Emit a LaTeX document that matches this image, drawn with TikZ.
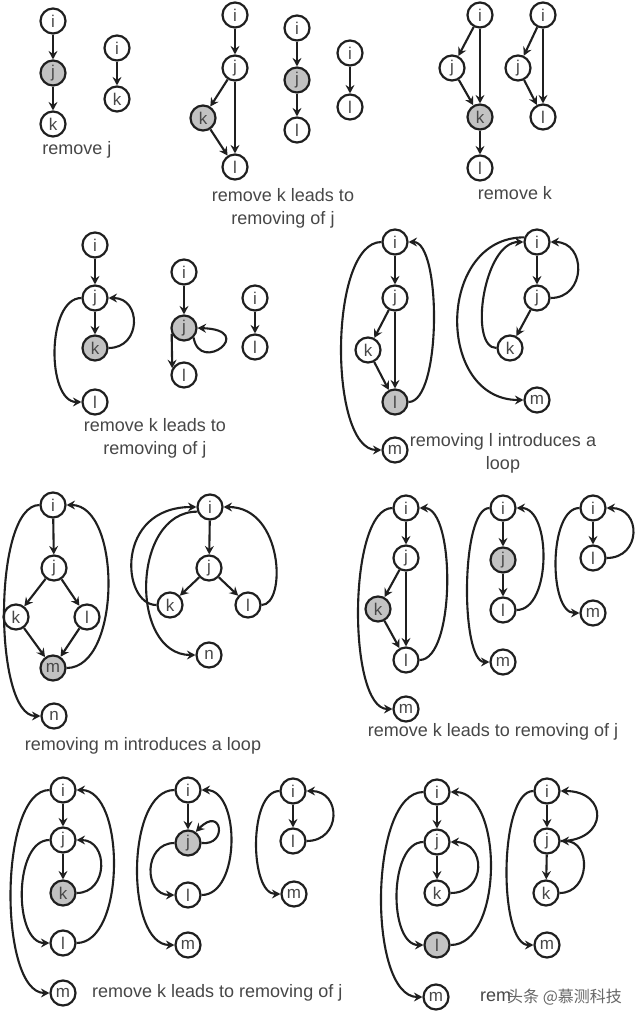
\documentclass[tikz,border=0pt]{standalone}
\usepackage{fontspec}
\setmainfont{Liberation Sans}
\newfontfamily\cjk{Noto Sans CJK SC}
\usetikzlibrary{arrows.meta}
\begin{document}
\begin{tikzpicture}[x=1pt,y=-1pt,
  nd/.style={circle,draw=black!88,line width=2.2pt,minimum size=25pt,inner sep=0pt,font=\fontsize{17}{17}\selectfont,text=black!72,fill=white},
  gn/.style={nd,fill=black!24},
  ar/.style={draw=black!88,line width=2.1pt,-{Stealth[length=8.5pt,width=9pt,inset=3pt]}},
  lb/.style={font=\fontsize{18}{23}\selectfont,text=black!72,align=center,inner sep=0pt},
  wm/.style={font=\cjk\fontsize{16}{16}\selectfont,text=black!60,inner sep=0pt}]
\fill[white] (0,0) rectangle (640,1022);
\path[use as bounding box] (0,0) rectangle (640,1022);

% ---------- group 1
\node[nd] (a1) at (53,21) {i};
\node[gn] (a2) at (53,73) {j};
\node[nd] (a3) at (53,124) {k};
\node[nd] (b1) at (117,48) {i};
\node[nd] (b2) at (117,99) {k};
\draw[ar] (a1)--(a2); \draw[ar] (a2)--(a3); \draw[ar] (b1)--(b2);
\node[lb] (la) at (77,150) {remove j};

% ---------- group 2
\node[nd] (c1) at (235,15) {i};
\node[nd] (c2) at (235,68) {j};
\node[gn] (c3) at (203,118) {k};
\node[nd] (c4) at (235,167) {l};
\node[nd] (d1) at (297,28) {i};
\node[gn] (d2) at (297,80) {j};
\node[nd] (d3) at (297,130) {l};
\node[nd] (e1) at (350,53) {i};
\node[nd] (e2) at (350,107) {l};
\draw[ar] (c1)--(c2); \draw[ar] (c2)--(c3); \draw[ar] (c2)--(c4); \draw[ar] (c3)--(c4);
\draw[ar] (d1)--(d2); \draw[ar] (d2)--(d3); \draw[ar] (e1)--(e2);
\node[lb] (lc) at (283,208) {remove k leads to\\removing of j};

% ---------- group 3
\node[nd] (f1) at (480,15) {i};
\node[nd] (f2) at (452,68) {j};
\node[gn] (f3) at (480,117) {k};
\node[nd] (f4) at (480,168) {l};
\node[nd] (g1) at (543,15) {i};
\node[nd] (g2) at (518,68) {j};
\node[nd] (g3) at (543,117) {l};
\draw[ar] (f1)--(f2); \draw[ar] (f1)--(f3); \draw[ar] (f2)--(f3); \draw[ar] (f3)--(f4);
\draw[ar] (g1)--(g2); \draw[ar] (g1)--(g3); \draw[ar] (g2)--(g3);
\node[lb] (lf) at (515,193) {remove k};

% ---------- group 4
\node[nd] (h1) at (95,245) {i};
\node[nd] (h2) at (95,298) {j};
\node[gn] (h3) at (95,348) {k};
\node[nd] (h4) at (95,402) {l};
\node[nd] (p1) at (184,272) {i};
\node[gn] (p2) at (184,328) {j};
\node[nd] (p3) at (184,375) {l};
\node[nd] (q1) at (255,298) {i};
\node[nd] (q2) at (255,347) {l};
\draw[ar] (h1)--(h2); \draw[ar] (h2)--(h3);
\draw[ar] (h3.east) .. controls +(33,0) and +(33,0) .. (h2.east);
\draw[ar] (h2.west) .. controls +(-35,0) and +(-35,0) .. (h4.west);
\draw[ar] (p1)--(p2);
\draw[ar] (p2.-45) .. controls (200,375) and (258,330) .. (p2.east);
\draw[ar] (p2.205) -- (p3.150);
\draw[ar] (q1)--(q2);
\node[lb] (lh) at (155,438) {remove k leads to\\removing of j};

% ---------- group 5
\node[nd] (r1) at (395,242) {i};
\node[nd] (r2) at (395,298) {j};
\node[nd] (r3) at (368,350) {k};
\node[gn] (r4) at (395,402) {l};
\node[nd] (r5) at (395,450) {m};
\node[nd] (s1) at (537,242) {i};
\node[nd] (s2) at (537,298) {j};
\node[nd] (s3) at (510,348) {k};
\node[nd] (s4) at (537,400) {m};
\draw[ar] (r1)--(r2); \draw[ar] (r2)--(r3); \draw[ar] (r2)--(r4); \draw[ar] (r3)--(r4);
\draw[ar] (r4.east) .. controls +(33,0) and +(33,0) .. (r1.east);
\draw[ar] (r1.west) .. controls +(-53,0) and +(-53,0) .. (r5.west);
\draw[ar] (s1)--(s2); \draw[ar] (s2)--(s3);
\draw[ar] (s2.east) .. controls +(36,0) and +(36,0) .. (s1.east);
\draw[ar] (s3.west) .. controls +(-28,0) and +(-40,0) .. (s1.west);
\draw[ar] (s1.160) .. controls +(-88,0) and +(-88,0) .. (s4.west);
\node[lb] (lr) at (503,453) {removing l introduces a\\loop};

% ---------- group 6
\node[nd] (t1) at (53,505) {i};
\node[nd] (t2) at (54,568) {j};
\node[nd] (t3) at (16,617) {k};
\node[nd] (t4) at (87,617) {l};
\node[gn] (t5) at (53,668) {m};
\node[nd] (t6) at (54,716) {n};
\node[nd] (u1) at (210,507) {i};
\node[nd] (u2) at (209,568) {j};
\node[nd] (u3) at (170,605) {k};
\node[nd] (u4) at (248,605) {l};
\node[nd] (u5) at (209,655) {n};
\draw[ar] (t1)--(t2); \draw[ar] (t2)--(t3); \draw[ar] (t2)--(t4); \draw[ar] (t3)--(t5); \draw[ar] (t4)--(t5);
\draw[ar] (t5.east) .. controls +(55,0) and +(55,0) .. (t1.east);
\draw[ar] (t1.west) .. controls +(-47,0) and +(-47,0) .. (t6.west);
\draw[ar] (u1)--(u2); \draw[ar] (u2)--(u3); \draw[ar] (u2)--(u4);
\draw[ar] (u4.east) .. controls +(25,0) and +(60,0) .. (u1.east);
\draw[ar] (u3.west) .. controls +(-35,0) and +(-82,0) .. (u1.west);
\draw[ar] (u1.200) .. controls +(-66,0) and +(-66,0) .. (u5.west);
\node[lb] (lt) at (143,746) {removing m introduces a loop};

% ---------- group 7
\node[nd] (v1) at (406,508) {i};
\node[nd] (v2) at (406,558) {j};
\node[gn] (v3) at (378,609) {k};
\node[nd] (v4) at (406,660) {l};
\node[nd] (v5) at (406,709) {m};
\node[nd] (w1) at (503,508) {i};
\node[gn] (w2) at (503,560) {j};
\node[nd] (w3) at (503,610) {l};
\node[nd] (w4) at (503,662) {m};
\node[nd] (x1) at (593,508) {i};
\node[nd] (x2) at (593,558) {l};
\node[nd] (x3) at (593,613) {m};
\draw[ar] (v1)--(v2); \draw[ar] (v2)--(v3); \draw[ar] (v2)--(v4); \draw[ar] (v3)--(v4);
\draw[ar] (v4.east) .. controls +(36,0) and +(36,0) .. (v1.east);
\draw[ar] (v1.west) .. controls +(-45,0) and +(-45,0) .. (v5.west);
\draw[ar] (w1)--(w2); \draw[ar] (w2)--(w3);
\draw[ar] (w3.east) .. controls +(35,0) and +(35,0) .. (w1.east);
\draw[ar] (w1.west) .. controls +(-29,0) and +(-29,0) .. (w4.west);
\draw[ar] (x1)--(x2);
\draw[ar] (x2.east) .. controls +(35,0) and +(35,0) .. (x1.east);
\draw[ar] (x1.west) .. controls +(-31,0) and +(-31,0) .. (x3.west);
\node[lb] (lv) at (493,732) {remove k leads to removing of j};

% ---------- group 8
\node[nd] (y1) at (63,790) {i};
\node[nd] (y2) at (63,840) {j};
\node[gn] (y3) at (63,893) {k};
\node[nd] (y4) at (63,943) {l};
\node[nd] (y5) at (63,993) {m};
\node[nd] (z1) at (188,790) {i};
\node[gn] (z2) at (188,843) {j};
\node[nd] (z3) at (188,895) {l};
\node[nd] (z4) at (188,945) {m};
\node[nd] (o1) at (293,791) {i};
\node[nd] (o2) at (293,841) {l};
\node[nd] (o3) at (294,894) {m};
\draw[ar] (y1)--(y2); \draw[ar] (y2)--(y3);
\draw[ar] (y3.east) .. controls +(32,0) and +(32,0) .. (y2.east);
\draw[ar] (y2.west) .. controls +(-36,0) and +(-36,0) .. (y4.west);
\draw[ar] (y4.east) .. controls +(49,0) and +(49,0) .. (y1.east);
\draw[ar] (y1.west) .. controls +(-51,0) and +(-51,0) .. (y5.west);
\draw[ar] (z1)--(z2);
\draw[ar] (z2.east) .. controls (228,846) and (222,805) .. (z2.55);
\draw[ar] (z2.west) .. controls +(-31,0) and +(-31,0) .. (z3.west);
\draw[ar] (z3.east) .. controls +(39,0) and +(39,0) .. (z1.east);
\draw[ar] (z1.west) .. controls +(-49,0) and +(-49,0) .. (z4.west);
\draw[ar] (o1)--(o2);
\draw[ar] (o2.east) .. controls +(35,0) and +(35,0) .. (o1.east);
\draw[ar] (o1.west) .. controls +(-31,0) and +(-31,0) .. (o3.west);
\node[lb,anchor=west] (ly) at (92,993) {remove k leads to removing of j};

% ---------- group 9
\node[nd] (aa1) at (437,792) {i};
\node[nd] (aa2) at (437,842) {j};
\node[nd] (aa3) at (437,893) {k};
\node[gn] (aa4) at (437,945) {l};
\node[nd] (aa5) at (436,997) {m};
\node[nd] (bb1) at (547,791) {i};
\node[nd] (bb2) at (547,841) {j};
\node[nd] (bb3) at (546,893) {k};
\node[nd] (bb4) at (547,945) {m};
\draw[ar] (aa1)--(aa2); \draw[ar] (aa2)--(aa3);
\draw[ar] (aa3.east) .. controls +(36,0) and +(36,0) .. (aa2.east);
\draw[ar] (aa2.west) .. controls +(-35,0) and +(-35,0) .. (aa4.west);
\draw[ar] (aa4.east) .. controls +(53,0) and +(53,0) .. (aa1.east);
\draw[ar] (aa1.west) .. controls +(-55,0) and +(-55,0) .. (aa5.west);
\draw[ar] (bb1)--(bb2); \draw[ar] (bb2)--(bb3);
\draw[ar] (bb2.east) .. controls +(48,0) and +(48,0) .. (bb1.east);
\draw[ar] (bb3.east) .. controls +(31,0) and +(31,0) .. (bb2.east);
\draw[ar] (bb1.west) .. controls +(-35,0) and +(-35,0) .. (bb4.west);
\node[lb,anchor=west] (lrem) at (480,997) {rem};
\node[wm,anchor=west] (wmk) at (507,997) {头条 @慕测科技};
\end{tikzpicture}
\end{document}
